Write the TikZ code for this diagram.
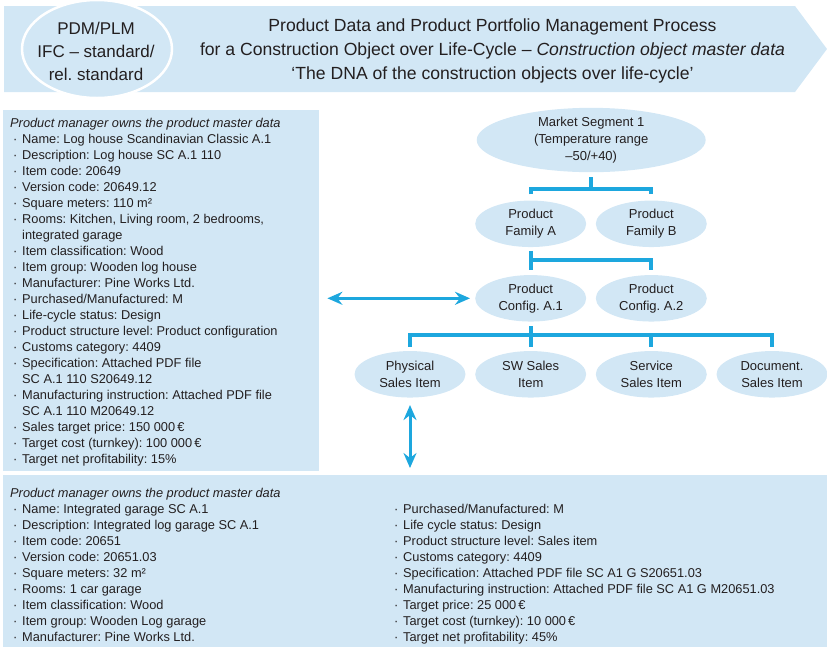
\documentclass[tikz,border=0pt]{standalone}
\usepackage{fontspec}
\setmainfont{Liberation Sans}
\usetikzlibrary{shapes.geometric,arrows.meta}

\definecolor{paleblue}{RGB}{210,231,245}
\definecolor{linkblue}{RGB}{29,167,222}
\definecolor{inkgrey}{RGB}{35,31,32}

\newcommand{\itm}{\makebox[12pt][l]{\hspace{3pt}\textperiodcentered}}
\newcommand{\cnt}{\hspace*{12pt}}
\frenchspacing

\begin{document}
\begin{tikzpicture}[x=1pt,y=1pt,yscale=-1,xscale=1,
  panel/.style={fill=paleblue,inner sep=0pt,anchor=north west},
  listtext/.style={anchor=north west,inner sep=0pt,align=left,text=inkgrey,font=\fontsize{12.8}{16}\selectfont},
  unit/.style={ellipse,fill=paleblue,inner sep=0pt,minimum width=111pt,minimum height=46.5pt,align=center,text=inkgrey,font=\fontsize{13}{16.7}\selectfont},
  tree/.style={draw=linkblue,line width=4pt},
  link/.style={draw=linkblue,line width=3pt,{Stealth[length=15pt,width=13pt,inset=5pt]}-{Stealth[length=15pt,width=13pt,inset=5pt]}}]
\useasboundingbox (0,0) rectangle (827,649);

%Shape: Banner arrow
\fill [paleblue] (4,6) -- (795,6) -- (827,49) -- (795,92) -- (4,92) -- cycle;
%Shape: Ellipse
\node [ellipse,fill=paleblue,draw=white,line width=2.5pt,minimum width=150pt,minimum height=98pt,inner sep=0pt] (pdm) at (97,49) {};
% Text Node
\node [align=center,inner sep=0pt,text=inkgrey,font=\fontsize{17}{23.3}\selectfont] (pdmtext) at (96,51.5) {PDM/PLM\\IFC – standard/\\rel. standard};
% Text Node
\node [align=center,inner sep=0pt,text=inkgrey,font=\fontsize{17.6}{24}\selectfont] (title) at (492.5,50.5) {Product Data and Product Portfolio Management Process\\for a Construction Object over Life-Cycle – \textit{Construction object master data}\\‘The DNA of the construction objects over life-cycle’};

%Shape: Rectangle
\node [panel,minimum width=316pt,minimum height=361pt] (topbox) at (3,110) {};
%Shape: Rectangle
\node [panel,minimum width=824pt,minimum height=172pt] (botbox) at (3,475) {};

% Text Node
\node [listtext] (topdata) at (10,118) {\textit{Product manager owns the product master data}\\
\itm Name: Log house Scandinavian Classic A.1\\
\itm Description: Log house SC A.1 110\\
\itm Item code: 20649\\
\itm Version code: 20649.12\\
\itm Square meters: 110 m²\\
\itm Rooms: Kitchen, Living room, 2 bedrooms,\\
\cnt integrated garage\\
\itm Item classification: Wood\\
\itm Item group: Wooden log house\\
\itm Manufacturer: Pine Works Ltd.\\
\itm Purchased/Manufactured: M\\
\itm Life-cycle status: Design\\
\itm Product structure level: Product configuration\\
\itm Customs category: 4409\\
\itm Specification: Attached PDF file\\
\cnt SC A.1 110 S20649.12\\
\itm Manufacturing instruction: Attached PDF file\\
\cnt SC A.1 110 M20649.12\\
\itm Sales target price: 150 000\,€\\
\itm Target cost (turnkey): 100 000\,€\\
\itm Target net profitability: 15\%};
% Text Node
\node [listtext] (botdata) at (10,487.8) {\textit{Product manager owns the product master data}\\
\itm Name: Integrated garage SC A.1\\
\itm Description: Integrated log garage SC A.1\\
\itm Item code: 20651\\
\itm Version code: 20651.03\\
\itm Square meters: 32 m²\\
\itm Rooms: 1 car garage\\
\itm Item classification: Wood\\
\itm Item group: Wooden Log garage\\
\itm Manufacturer: Pine Works Ltd.};
% Text Node
\node [listtext] (botmore) at (391,503.8) {\itm Purchased/Manufactured: M\\
\itm Life cycle status: Design\\
\itm Product structure level: Sales item\\
\itm Customs category: 4409\\
\itm Specification: Attached PDF file SC A1 G S20651.03\\
\itm Manufacturing instruction: Attached PDF file SC A1 G M20651.03\\
\itm Target price: 25 000\,€\\
\itm Target cost (turnkey): 10 000\,€\\
\itm Target net profitability: 45\%};

%Shape: Ellipses of the product tree
\node [unit,minimum width=229pt,minimum height=56pt] (seg) at (591.2,140) {Market Segment 1\\(Temperature range\\–50/+40)};
\node [unit] (famA) at (530.7,223.8) {Product\\Family A};
\node [unit] (famB) at (651.3,223.8) {Product\\Family B};
\node [unit] (cfgA) at (530.7,298.3) {Product\\Config. A.1};
\node [unit] (cfgB) at (651.3,298.3) {Product\\Config. A.2};
\node [unit] (phys) at (410,374.3) {Physical\\Sales Item};
\node [unit] (swi) at (530.7,374.3) {SW Sales\\Item};
\node [unit] (serv) at (651.3,374.3) {Service\\Sales Item};
\node [unit] (docu) at (772,374.3) {Document.\\Sales Item};

%Straight Lines: segment to families
\path (seg.south) ++(0,16.5) coordinate (segbus);
\draw [tree,shorten <=5pt] (seg.south) -- (segbus);
\draw [tree,shorten <=6pt,shorten >=6pt] (famA.north) |- (segbus) -| (famB.north);
%Straight Lines: family to configurations
\path (famA.south) ++(0,12.3) coordinate (fambus);
\draw [tree,shorten <=3.5pt,shorten >=4.5pt] (famA.south) -- (cfgA.north);
\draw [tree,shorten >=4.5pt] (fambus) -| (cfgB.north);
%Straight Lines: configuration to sales items
\path (cfgA.south) ++(0,13.3) coordinate (cfgbus);
\draw [tree,shorten <=4.3pt,shorten >=4pt] (cfgA.south) -- (swi.north);
\draw [tree,shorten <=4pt,shorten >=4pt] (phys.north) |- (cfgbus) -| (docu.north);
\draw [tree,shorten >=4pt] (cfgbus -| serv) -- (serv.north);

%Straight Lines: double arrows
\draw [link,shorten <=8pt,shorten >=5pt] (topbox.east |- cfgA) -- (cfgA.west);
\draw [link,shorten <=7.3pt,shorten >=7pt] (phys.south) -- (phys.south |- botbox.north);

\end{tikzpicture}
\end{document}
